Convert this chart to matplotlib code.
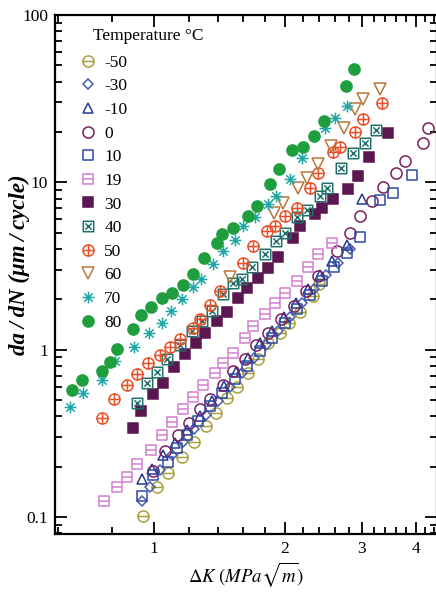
import numpy as np
import matplotlib
matplotlib.use("Agg")
import matplotlib.pyplot as plt
from matplotlib.path import Path
from matplotlib.ticker import FixedLocator, FixedFormatter, NullFormatter

plt.rcParams['font.family'] = ['Liberation Serif', 'DejaVu Serif']
plt.rcParams['mathtext.fontset'] = 'stix'

# ---- crack growth data: dK (MPa*sqrt(m)) vs da/dN (um/cycle) ----
temps = ['-50', '-30', '-10', '0', '10', '19', '30', '40', '50', '60', '70', '80']

dk_m50 = [0.943, 1.016, 1.077, 1.160, 1.236, 1.316, 1.388, 1.471, 1.552, 1.645,
          1.735, 1.829, 1.949, 2.043, 2.166, 2.322, 2.396]
da_m50 = [0.102, 0.150, 0.182, 0.227, 0.279, 0.352, 0.420, 0.517, 0.602, 0.729,
          0.884, 1.09, 1.25, 1.45, 1.69, 2.10, 2.48]

dk_m30 = [0.938, 0.979, 1.032, 1.100, 1.166, 1.236, 1.316, 1.403, 1.495, 1.594,
          1.699, 1.811, 1.928, 2.054, 2.189, 2.333, 2.486, 2.649, 2.822]
da_m30 = [0.125, 0.152, 0.190, 0.233, 0.279, 0.337, 0.409, 0.496, 0.602, 0.729,
          0.896, 1.07, 1.30, 1.57, 1.91, 2.31, 2.80, 3.30, 4.00]

dk_m10 = [0.938, 0.989, 1.049, 1.118, 1.191, 1.276, 1.360, 1.448, 1.544, 1.645,
          1.753, 1.867, 1.989, 2.120, 2.260, 2.408, 2.567, 2.777, 3.007]
da_m10 = [0.169, 0.194, 0.233, 0.275, 0.329, 0.404, 0.496, 0.610, 0.739, 0.896,
          1.09, 1.30, 1.57, 1.91, 2.31, 2.80, 3.40, 4.24, 7.97]

dk_0 = [0.995, 1.060, 1.135, 1.203, 1.276, 1.345, 1.441, 1.519, 1.619, 1.715,
        1.829, 1.960, 2.100, 2.240, 2.380, 2.634, 2.820, 2.980, 3.165, 3.361,
        3.599, 3.776, 4.150, 4.270]
da_0 = [0.187, 0.249, 0.307, 0.362, 0.444, 0.510, 0.618, 0.749, 0.884, 1.06,
        1.26, 1.53, 1.83, 2.25, 2.77, 3.90, 4.99, 6.31, 7.75, 9.40,
        11.4, 13.4, 17.2, 21.1]

dk_10 = [0.938, 0.995, 1.077, 1.129, 1.191, 1.262, 1.345, 1.433, 1.535, 1.636,
         1.753, 1.867, 2.000, 2.128, 2.284, 2.433, 2.594, 2.777, 2.976, 3.307,
         3.540, 3.920]
da_10 = [0.134, 0.177, 0.214, 0.260, 0.307, 0.377, 0.463, 0.554, 0.671, 0.803,
         0.986, 1.18, 1.45, 1.76, 2.13, 2.58, 3.13, 3.79, 4.73, 7.86,
         8.67, 11.1]

dk_19 = [0.768, 0.822, 0.867, 0.914, 0.984, 1.043, 1.100, 1.166, 1.229, 1.296,
         1.381, 1.440, 1.519, 1.619, 1.689, 1.800, 1.897, 2.000, 2.128, 2.260,
         2.383, 2.567]
da_19 = [0.124, 0.150, 0.174, 0.206, 0.253, 0.311, 0.367, 0.444, 0.524, 0.618,
         0.729, 0.836, 0.959, 1.18, 1.39, 1.64, 1.91, 2.19, 2.58, 3.13,
         3.74, 4.35]

dk_30 = [0.895, 0.934, 0.995, 1.049, 1.112, 1.178, 1.249, 1.310, 1.396, 1.471,
         1.560, 1.636, 1.733, 1.829, 1.928, 2.087, 2.166, 2.345, 2.433, 2.581,
         2.792, 2.939, 3.122, 3.455]
da_30 = [0.342, 0.427, 0.546, 0.635, 0.792, 0.946, 1.10, 1.26, 1.49, 1.69,
         2.04, 2.35, 2.69, 3.09, 3.59, 4.66, 5.50, 6.48, 7.04, 7.97,
         9.14, 10.9, 14.2, 19.7]

dk_40 = [0.914, 0.964, 1.016, 1.071, 1.148, 1.223, 1.289, 1.360, 1.440, 1.519,
         1.594, 1.679, 1.800, 1.907, 2.000, 2.128, 2.250, 2.408, 2.499, 2.691,
         2.868, 3.056, 3.236]
da_40 = [0.483, 0.635, 0.739, 0.884, 1.07, 1.30, 1.49, 1.71, 2.16, 2.51,
         2.65, 3.13, 3.74, 4.47, 5.00, 6.22, 6.85, 8.31, 9.27, 12.2,
         15.0, 17.2, 20.6]

dk_50 = [0.759, 0.809, 0.867, 0.914, 0.969, 1.032, 1.088, 1.148, 1.229, 1.276,
         1.345, 1.418, 1.602, 1.689, 1.818, 1.897, 2.000, 2.128, 2.284, 2.383,
         2.581, 2.677, 2.898, 3.022, 3.342]
da_50 = [0.393, 0.510, 0.618, 0.719, 0.836, 0.933, 1.04, 1.16, 1.35, 1.53,
         1.86, 2.25, 3.30, 4.18, 5.13, 5.50, 6.31, 7.04, 9.27, 11.4,
         15.2, 16.3, 20.0, 23.9, 29.8]

dk_60 = [1.495, 1.887, 1.979, 2.142, 2.250, 2.383, 2.553, 2.731, 2.898, 3.022, 3.307]
da_60 = [2.73, 6.58, 7.54, 9.27, 10.6, 12.9, 16.5, 21.1, 27.4, 31.5, 36.1]

dk_70 = [0.641, 0.687, 0.759, 0.814, 0.900, 0.974, 1.043, 1.094, 1.160, 1.229,
         1.282, 1.367, 1.440, 1.535, 1.602, 1.707, 1.829, 1.907, 2.054, 2.189,
         2.473, 2.607, 2.777]
da_70 = [0.457, 0.554, 0.662, 0.860, 1.04, 1.26, 1.45, 1.71, 2.02, 2.38,
         2.65, 3.26, 3.90, 4.53, 5.50, 6.22, 7.44, 8.31, 10.4, 14.0,
         21.1, 24.3, 28.6]

dk_80 = [0.648, 0.683, 0.759, 0.792, 0.822, 0.895, 0.934, 0.984, 1.043, 1.100,
         1.166, 1.229, 1.303, 1.396, 1.433, 1.519, 1.645, 1.725, 1.848, 1.938,
         2.076, 2.201, 2.333, 2.459, 2.763, 2.883]
da_80 = [0.577, 0.662, 0.749, 0.849, 1.01, 1.32, 1.60, 1.81, 2.04, 2.19,
         2.44, 2.84, 3.54, 4.35, 4.93, 5.35, 6.31, 7.24, 9.80, 12.0,
         15.6, 16.3, 18.95, 23.3, 37.7, 47.6]

# ---- custom open symbols ----
M, L = Path.MOVETO, Path.LINETO


def _lines(*segs):
    verts, codes = [], []
    for (a, b) in segs:
        verts += [a, b]
        codes += [M, L]
    return Path(verts, codes)


circle = Path.unit_circle()
square = Path([(-1, -1), (1, -1), (1, 1), (-1, 1), (-1, -1)], [M, L, L, L, Path.CLOSEPOLY])
circ_minus = Path.make_compound_path(circle, _lines(((-1, 0), (1, 0))))
circ_plus = Path.make_compound_path(circle, _lines(((-1, 0), (1, 0)), ((0, -1), (0, 1))))
sq_minus = Path.make_compound_path(square, _lines(((-1, 0), (1, 0))))
sq_cross = Path.make_compound_path(square, _lines(((-0.6, -0.6), (0.6, 0.6)), ((-0.6, 0.6), (0.6, -0.6))))
r = 1 / np.sqrt(2)
asterisk = _lines(((-1, 0), (1, 0)), ((0, -1), (0, 1)), ((-r, -r), (r, r)), ((-r, r), (r, -r)))

series = [
    (dk_m50, da_m50, circ_minus, '#a9a23a', 'none', 8.0),
    (dk_m30, da_m30, 'D', '#4a5cae', 'none', 5.5),
    (dk_m10, da_m10, '^', '#263a94', 'none', 7.5),
    (dk_0, da_0, 'o', '#7a1f5e', 'none', 8.0),
    (dk_10, da_10, square, '#2c4aa4', 'none', 7.5),
    (dk_19, da_19, sq_minus, '#d47fd0', 'none', 7.5),
    (dk_30, da_30, 's', '#5b174f', '#5b174f', 7.0),
    (dk_40, da_40, sq_cross, '#1f6f6a', 'none', 7.5),
    (dk_50, da_50, circ_plus, '#ea512a', 'none', 8.0),
    (dk_60, da_60, 'v', '#b8773a', 'none', 8.0),
    (dk_70, da_70, asterisk, '#1fa6a6', 'none', 8.5),
    (dk_80, da_80, 'o', '#1f9e3e', '#1f9e3e', 8.0),
]

fig = plt.figure(figsize=(4.36, 5.92), dpi=100)
ax = fig.add_axes([55 / 436, 58 / 592, 382 / 436, 519 / 592])

for (xs, ys, mk, col, fc, ms), lab in zip(series, temps):
    ax.plot(xs, ys, linestyle='none', marker=mk, markersize=ms,
            markeredgecolor=col, markerfacecolor=fc, markeredgewidth=1.1,
            label=lab)

ax.set_xscale('log')
ax.set_yscale('log')
ax.set_xlim(0.592, 4.47)
ax.set_ylim(0.0791, 100)

ax.xaxis.set_major_locator(FixedLocator([1, 2, 3, 4]))
ax.xaxis.set_major_formatter(FixedFormatter(['1', '2', '3', '4']))
ax.xaxis.set_minor_locator(FixedLocator([0.6, 0.8, 1.2, 1.4, 1.6, 1.8, 2.2, 2.4, 2.6, 2.8,
                                         3.2, 3.4, 3.6, 3.8, 4.2, 4.4]))
ax.xaxis.set_minor_formatter(NullFormatter())

ax.yaxis.set_major_locator(FixedLocator([0.1, 1, 10, 100]))
ax.yaxis.set_major_formatter(FixedFormatter(['0.1', '1', '10', '100']))
ax.yaxis.set_minor_locator(FixedLocator([k * 10.0 ** e for e in (-2, -1, 0, 1)
                                         for k in range(2, 10)]))
ax.yaxis.set_minor_formatter(NullFormatter())

ax.tick_params(which='both', direction='in', top=True, right=True,
               labelsize=12.5, width=1.3, colors='black')
ax.tick_params(which='major', length=8.5, pad=5)
ax.tick_params(which='minor', length=5)
for sp in ax.spines.values():
    sp.set_linewidth(1.6)

ax.set_xlabel(r'$\Delta K\ (MPa\sqrt{m})$', fontsize=13.5, labelpad=2)
fig.text(19 / 436, 1 - 265 / 592, 'da\u2009/\u2009dN (\u03bcm\u2009/\u2009cycle)',
         fontsize=16.5, fontweight='bold', fontstyle='italic',
         rotation=90, ha='center', va='center')

leg = ax.legend(loc='upper left', bbox_to_anchor=(0.045, 0.937), frameon=False,
                fontsize=12.5, labelspacing=0.43, handletextpad=0.45,
                handlelength=1.0, borderaxespad=0)
ax.text(0.10, 0.959, 'Temperature \u00b0C', transform=ax.transAxes,
        fontsize=12.5, ha='left', va='center')

fig.savefig('out.png', dpi=100)
